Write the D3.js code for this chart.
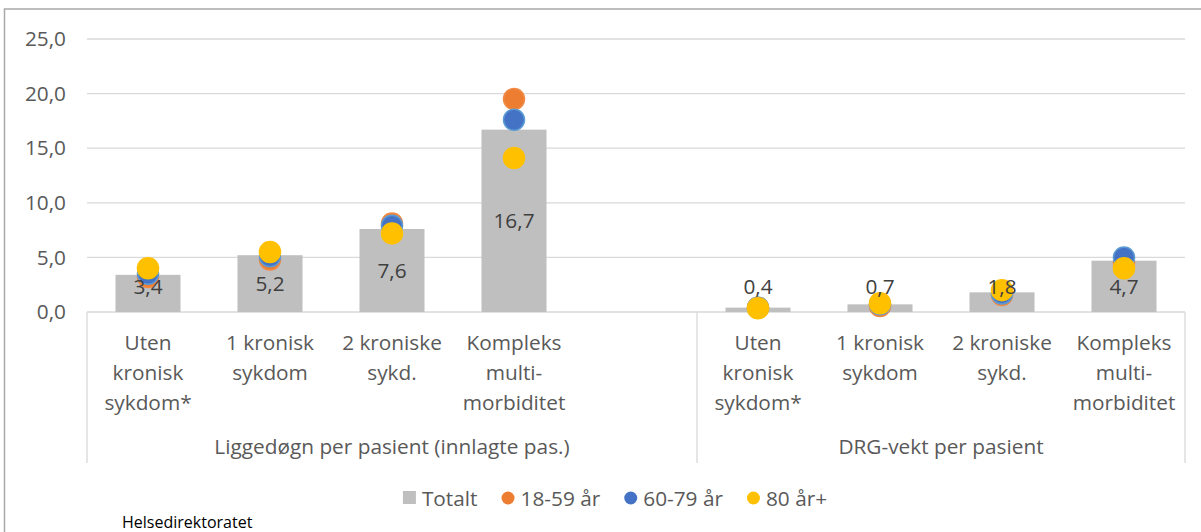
<!DOCTYPE html>
<html>
<head>
<meta charset="utf-8">
<script src="https://cdn.jsdelivr.net/npm/d3@7"></script>
<style>
  body { margin: 0; background: #fff; }
  text { font-family: "Open Sans", Lato, sans-serif; }
</style>
</head>
<body>
<div id="chart"></div>
<script>
// data
var groups = ["Liggedøgn per pasient (innlagte pas.)", "DRG-vekt per pasient"];
var categoryLines = [
    ["Uten", "kronisk", "sykdom*"],
    ["1 kronisk", "sykdom"],
    ["2 kroniske", "sykd."],
    ["Kompleks", "multi-", "morbiditet"]
];
var totalt   = [3.4, 5.2, 7.6, 16.7, 0.4, 0.7, 1.8, 4.7];
var age1859  = [3.2, 4.8, 8.1, 19.5, 0.4, 0.55, 1.55, 4.5];
var age6079  = [3.5, 5.1, 7.9, 17.6, 0.4, 0.7, 1.7, 5.0];
var age80    = [4.0, 5.5, 7.2, 14.1, 0.35, 0.8, 2.0, 4.0];
var yTicks = [0, 5, 10, 15, 20, 25];

var svgWidth = 1201;
var svgHeight = 532;
var fontSize = 20.8;

var svg = d3.select("#chart")
    .append("svg")
    .attr("width", svgWidth)
    .attr("height", svgHeight);

// outer frame
svg.append("rect")
    .attr("x", 4.5).attr("y", 9)
    .attr("width", 1210).attr("height", 540)
    .attr("fill", "none")
    .attr("stroke", "#a9a9a9")
    .attr("stroke-width", 1.5);

// slots: 4 categories, an empty slot, 4 categories
var slots = ["a0", "a1", "a2", "a3", "gap", "b0", "b1", "b2", "b3"];
var slotOf = function(i) { return i < 4 ? "a" + i : "b" + (i - 4); };

var x = d3.scaleBand()
    .domain(slots)
    .range([87, 1185])
    .paddingInner(0.467)
    .paddingOuter(0.2335);

var y = d3.scaleLinear()
    .domain([0, 25])
    .range([312, 39]);

// gridlines
svg.append("g").selectAll("line")
    .data(yTicks)
    .enter()
    .append("line")
    .attr("x1", 87).attr("x2", 1185)
    .attr("y1", d => y(d)).attr("y2", d => y(d))
    .attr("stroke", "#d9d9d9")
    .attr("stroke-width", 1.3);

// y axis labels
var leftAxis = d3.axisLeft(y)
    .tickValues(yTicks)
    .tickSize(0)
    .tickPadding(0)
    .tickFormat(d => d3.format(".1f")(d).replace(".", ","));

var yAxis = svg.append("g")
    .attr("transform", "translate(66,0)")
    .call(leftAxis);
yAxis.select(".domain").remove();
yAxis.selectAll("text")
    .attr("font-family", "'Open Sans', sans-serif")
    .attr("font-size", fontSize)
    .attr("fill", "#595959");

// category axis separators
var sepX = [87, x.step() * 5 + 87, 1185];
svg.append("g").selectAll("line")
    .data(sepX)
    .enter()
    .append("line")
    .attr("x1", d => d).attr("x2", d => d)
    .attr("y1", 312).attr("y2", 463)
    .attr("stroke", "#d9d9d9")
    .attr("stroke-width", 1.3);

// bars
var barData = totalt.map((v, i) => ({ slot: slotOf(i), v: v }));
svg.append("g").selectAll("rect")
    .data(barData)
    .enter()
    .append("rect")
    .attr("x", d => x(d.slot))
    .attr("width", x.bandwidth())
    .attr("y", d => y(d.v))
    .attr("height", d => y(0) - y(d.v))
    .attr("fill", "#bfbfbf");

// age dots
var series = [
    { name: "18-59 år", values: age1859, fill: "#ed7d31", stroke: "#f08a45" },
    { name: "60-79 år", values: age6079, fill: "#4472c4", stroke: "#5b9bd5" },
    { name: "80 år+",   values: age80,   fill: "#ffc000", stroke: "#ffc000" }
];
series.forEach(function(s) {
    svg.append("g").selectAll("circle")
        .data(s.values)
        .enter()
        .append("circle")
        .attr("cx", (d, i) => x(slotOf(i)) + x.bandwidth() / 2)
        .attr("cy", d => y(d))
        .attr("r", 10.5)
        .attr("fill", s.fill)
        .attr("stroke", s.stroke)
        .attr("stroke-width", 1.5);
});

// bar labels (drawn over the dots)
svg.append("g").selectAll("text")
    .data(barData)
    .enter()
    .append("text")
    .attr("x", d => x(d.slot) + x.bandwidth() / 2)
    .attr("y", d => Math.min(y(d.v / 2), y(2.3)))
    .attr("dy", "0.36em")
    .attr("text-anchor", "middle")
    .attr("font-size", fontSize)
    .attr("fill", "#404040")
    .text(d => d3.format(".1f")(d.v).replace(".", ","));

// category labels
var catData = [];
groups.forEach(function(g, gi) {
    categoryLines.forEach(function(lines, ci) {
        catData.push({ slot: slotOf(gi * 4 + ci), lines: lines });
    });
});
var cat = svg.append("g").selectAll("text")
    .data(catData)
    .enter()
    .append("text")
    .attr("text-anchor", "middle")
    .attr("font-size", fontSize)
    .attr("fill", "#595959");
cat.selectAll("tspan")
    .data(d => d.lines.map(l => ({ slot: d.slot, l: l })))
    .enter()
    .append("tspan")
    .attr("x", d => x(d.slot) + x.bandwidth() / 2)
    .attr("y", (d, i) => 350 + i * 30)
    .text(d => d.l);

// group labels
var groupCenters = [(87 + sepX[1]) / 2, (sepX[1] + 1185) / 2];
svg.append("g").selectAll("text")
    .data(groups)
    .enter()
    .append("text")
    .attr("x", (d, i) => groupCenters[i])
    .attr("y", 454)
    .attr("text-anchor", "middle")
    .attr("font-size", fontSize)
    .attr("fill", "#595959")
    .text(d => d);

// legend
var legendItems = [{ name: "Totalt", fill: "#bfbfbf", square: true }].concat(series);
var legend = svg.append("g");
var lx = 0;
legendItems.forEach(function(item) {
    var g = legend.append("g").attr("transform", `translate(${lx},0)`);
    if (item.square) {
        g.append("rect").attr("x", 0).attr("y", -7).attr("width", 13).attr("height", 13).attr("fill", item.fill);
    } else {
        g.append("circle").attr("cx", 6.5).attr("cy", 0).attr("r", 6.5).attr("fill", item.fill);
    }
    var t = g.append("text")
        .attr("x", 19)
        .attr("y", 0)
        .attr("dy", "0.36em")
        .attr("font-size", fontSize)
        .attr("fill", "#595959")
        .text(item.name);
    lx += 19 + t.node().getComputedTextLength() + 24;
});
var legendWidth = lx - 24;
legend.attr("transform", `translate(${615 - legendWidth / 2},498)`);

// source
svg.append("text")
    .attr("x", 122)
    .attr("y", 528)
    .attr("font-family", "'Liberation Sans', Arial, sans-serif")
    .attr("font-size", 16)
    .attr("fill", "#000")
    .text("Helsedirektoratet");
</script>
</body>
</html>
